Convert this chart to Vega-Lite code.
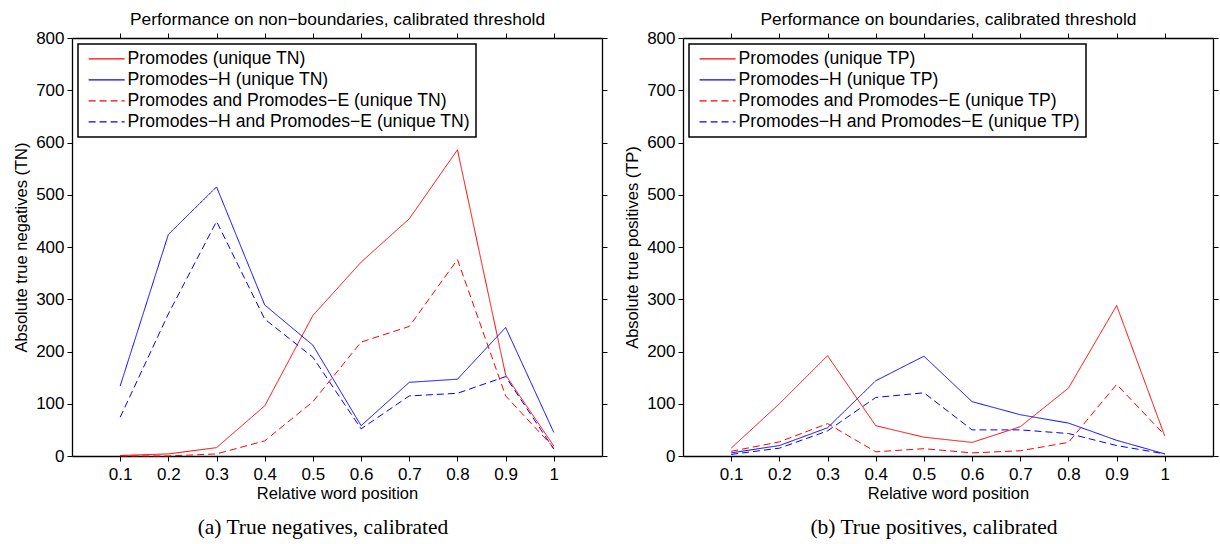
{
  "$schema": "https://vega.github.io/schema/vega-lite/v6.json",
  "background": "white",
  "padding": {"left": 13, "top": 10, "right": 1, "bottom": 2},
  "config": {
    "view": {"stroke": null},
    "axis": {
      "domainColor": "black", "domainWidth": 1.3, "tickColor": "black", "tickWidth": 1, "tickSize": 5,
      "labelColor": "black", "titleColor": "black", "labelFont": "Liberation Sans", "titleFont": "Liberation Sans",
      "labelFontSize": 17, "titleFontSize": 16.5, "titleFontWeight": "normal", "grid": false, "labelPadding": 3
    },
    "legend": {
      "orient": "top-left", "offset": 6, "strokeColor": "black", "strokeWidth": 1.5, "fillColor": "white",
      "padding": 6, "labelFont": "Liberation Sans", "labelFontSize": 17.6, "labelColor": "black",
      "symbolSize": 144, "symbolStrokeWidth": 1.2, "symbolType": "M-0.7,0L5.3,0", "rowPadding": 2, "labelOffset": 26,
      "labelLimit": 0, "cornerRadius": 0
    }
  },
  "datasets": {
    "tn": [
      {"pos": 0.1, "series": "Promodes (unique TN)", "value": 1},
      {"pos": 0.2, "series": "Promodes (unique TN)", "value": 4},
      {"pos": 0.3, "series": "Promodes (unique TN)", "value": 16},
      {"pos": 0.4, "series": "Promodes (unique TN)", "value": 96},
      {"pos": 0.5, "series": "Promodes (unique TN)", "value": 269},
      {"pos": 0.6, "series": "Promodes (unique TN)", "value": 371},
      {"pos": 0.7, "series": "Promodes (unique TN)", "value": 454},
      {"pos": 0.8, "series": "Promodes (unique TN)", "value": 586},
      {"pos": 0.9, "series": "Promodes (unique TN)", "value": 155},
      {"pos": 1.0, "series": "Promodes (unique TN)", "value": 19},
      {"pos": 0.1, "series": "Promodes−H (unique TN)", "value": 134},
      {"pos": 0.2, "series": "Promodes−H (unique TN)", "value": 424},
      {"pos": 0.3, "series": "Promodes−H (unique TN)", "value": 515},
      {"pos": 0.4, "series": "Promodes−H (unique TN)", "value": 289},
      {"pos": 0.5, "series": "Promodes−H (unique TN)", "value": 212},
      {"pos": 0.6, "series": "Promodes−H (unique TN)", "value": 58},
      {"pos": 0.7, "series": "Promodes−H (unique TN)", "value": 141},
      {"pos": 0.8, "series": "Promodes−H (unique TN)", "value": 147},
      {"pos": 0.9, "series": "Promodes−H (unique TN)", "value": 246},
      {"pos": 1.0, "series": "Promodes−H (unique TN)", "value": 45},
      {"pos": 0.1, "series": "Promodes and Promodes−E (unique TN)", "value": 0},
      {"pos": 0.2, "series": "Promodes and Promodes−E (unique TN)", "value": 0},
      {"pos": 0.3, "series": "Promodes and Promodes−E (unique TN)", "value": 4},
      {"pos": 0.4, "series": "Promodes and Promodes−E (unique TN)", "value": 29},
      {"pos": 0.5, "series": "Promodes and Promodes−E (unique TN)", "value": 104},
      {"pos": 0.6, "series": "Promodes and Promodes−E (unique TN)", "value": 218},
      {"pos": 0.7, "series": "Promodes and Promodes−E (unique TN)", "value": 248},
      {"pos": 0.8, "series": "Promodes and Promodes−E (unique TN)", "value": 376},
      {"pos": 0.9, "series": "Promodes and Promodes−E (unique TN)", "value": 115},
      {"pos": 1.0, "series": "Promodes and Promodes−E (unique TN)", "value": 16},
      {"pos": 0.1, "series": "Promodes−H and Promodes−E (unique TN)", "value": 74},
      {"pos": 0.2, "series": "Promodes−H and Promodes−E (unique TN)", "value": 272},
      {"pos": 0.3, "series": "Promodes−H and Promodes−E (unique TN)", "value": 449},
      {"pos": 0.4, "series": "Promodes−H and Promodes−E (unique TN)", "value": 262},
      {"pos": 0.5, "series": "Promodes−H and Promodes−E (unique TN)", "value": 189},
      {"pos": 0.6, "series": "Promodes−H and Promodes−E (unique TN)", "value": 52},
      {"pos": 0.7, "series": "Promodes−H and Promodes−E (unique TN)", "value": 115},
      {"pos": 0.8, "series": "Promodes−H and Promodes−E (unique TN)", "value": 120},
      {"pos": 0.9, "series": "Promodes−H and Promodes−E (unique TN)", "value": 152},
      {"pos": 1.0, "series": "Promodes−H and Promodes−E (unique TN)", "value": 13}
    ],
    "tp": [
      {"pos": 0.1, "series": "Promodes (unique TP)", "value": 15},
      {"pos": 0.2, "series": "Promodes (unique TP)", "value": 100},
      {"pos": 0.3, "series": "Promodes (unique TP)", "value": 192},
      {"pos": 0.4, "series": "Promodes (unique TP)", "value": 58},
      {"pos": 0.5, "series": "Promodes (unique TP)", "value": 36},
      {"pos": 0.6, "series": "Promodes (unique TP)", "value": 26},
      {"pos": 0.7, "series": "Promodes (unique TP)", "value": 56},
      {"pos": 0.8, "series": "Promodes (unique TP)", "value": 130},
      {"pos": 0.9, "series": "Promodes (unique TP)", "value": 288},
      {"pos": 1.0, "series": "Promodes (unique TP)", "value": 38},
      {"pos": 0.1, "series": "Promodes−H (unique TP)", "value": 6},
      {"pos": 0.2, "series": "Promodes−H (unique TP)", "value": 20},
      {"pos": 0.3, "series": "Promodes−H (unique TP)", "value": 54},
      {"pos": 0.4, "series": "Promodes−H (unique TP)", "value": 144},
      {"pos": 0.5, "series": "Promodes−H (unique TP)", "value": 191},
      {"pos": 0.6, "series": "Promodes−H (unique TP)", "value": 104},
      {"pos": 0.7, "series": "Promodes−H (unique TP)", "value": 79},
      {"pos": 0.8, "series": "Promodes−H (unique TP)", "value": 63},
      {"pos": 0.9, "series": "Promodes−H (unique TP)", "value": 30},
      {"pos": 1.0, "series": "Promodes−H (unique TP)", "value": 4},
      {"pos": 0.1, "series": "Promodes and Promodes−E (unique TP)", "value": 9},
      {"pos": 0.2, "series": "Promodes and Promodes−E (unique TP)", "value": 27},
      {"pos": 0.3, "series": "Promodes and Promodes−E (unique TP)", "value": 62},
      {"pos": 0.4, "series": "Promodes and Promodes−E (unique TP)", "value": 8},
      {"pos": 0.5, "series": "Promodes and Promodes−E (unique TP)", "value": 14},
      {"pos": 0.6, "series": "Promodes and Promodes−E (unique TP)", "value": 6},
      {"pos": 0.7, "series": "Promodes and Promodes−E (unique TP)", "value": 10},
      {"pos": 0.8, "series": "Promodes and Promodes−E (unique TP)", "value": 26},
      {"pos": 0.9, "series": "Promodes and Promodes−E (unique TP)", "value": 137},
      {"pos": 1.0, "series": "Promodes and Promodes−E (unique TP)", "value": 40},
      {"pos": 0.1, "series": "Promodes−H and Promodes−E (unique TP)", "value": 3},
      {"pos": 0.2, "series": "Promodes−H and Promodes−E (unique TP)", "value": 15},
      {"pos": 0.3, "series": "Promodes−H and Promodes−E (unique TP)", "value": 48},
      {"pos": 0.4, "series": "Promodes−H and Promodes−E (unique TP)", "value": 112},
      {"pos": 0.5, "series": "Promodes−H and Promodes−E (unique TP)", "value": 121},
      {"pos": 0.6, "series": "Promodes−H and Promodes−E (unique TP)", "value": 50},
      {"pos": 0.7, "series": "Promodes−H and Promodes−E (unique TP)", "value": 50},
      {"pos": 0.8, "series": "Promodes−H and Promodes−E (unique TP)", "value": 43},
      {"pos": 0.9, "series": "Promodes−H and Promodes−E (unique TP)", "value": 20},
      {"pos": 1.0, "series": "Promodes−H and Promodes−E (unique TP)", "value": 4}
    ]
  },
  "spacing": 16,
  "resolve": {
    "scale": {"color": "independent", "strokeDash": "independent"},
    "legend": {"color": "independent", "strokeDash": "independent"}
  },
  "hconcat": [
    {
      "width": 530, "height": 418,
      "data": {"name": "tn"},
      "title": {"text": "(a) True negatives, calibrated", "orient": "bottom", "font": "Liberation Serif", "fontSize": 21.5, "fontWeight": "normal", "color": "black", "offset": 15, "dx": -14},
      "layer": [
        {
          "mark": {"type": "line", "strokeWidth": 1},
          "encoding": {
            "x": {"field": "pos", "type": "quantitative", "scale": {"domain": [0, 1.1], "nice": false, "zero": false},
                  "axis": {"orient": "bottom", "values": [0.1, 0.2, 0.3, 0.4, 0.5, 0.6, 0.7, 0.8, 0.9, 1], "format": "~g", "title": "Relative word position", "titlePadding": 3, "labelPadding": 5}},
            "y": {"field": "value", "type": "quantitative", "scale": {"domain": [0, 800], "nice": false},
                  "axis": {"orient": "left", "values": [0, 100, 200, 300, 400, 500, 600, 700, 800], "title": "Absolute true negatives (TN)", "titlePadding": 6}},
            "color": {"field": "series", "type": "nominal",
                      "scale": {"domain": ["Promodes (unique TN)", "Promodes−H (unique TN)", "Promodes and Promodes−E (unique TN)", "Promodes−H and Promodes−E (unique TN)"], "range": ["#ff0000", "#0000ff", "#ff0000", "#0000ff"]},
                      "legend": {"title": null}},
            "strokeDash": {"field": "series", "type": "nominal",
                      "scale": {"domain": ["Promodes (unique TN)", "Promodes−H (unique TN)", "Promodes and Promodes−E (unique TN)", "Promodes−H and Promodes−E (unique TN)"], "range": [[1, 0], [1, 0], [7, 4], [7, 4]]},
                      "legend": {"title": null}}
          }
        },
        {
          "mark": {"type": "line", "opacity": 0},
          "encoding": {
            "x": {"field": "pos", "type": "quantitative",
                  "axis": {"orient": "top", "values": [0.1, 0.2, 0.3, 0.4, 0.5, 0.6, 0.7, 0.8, 0.9, 1], "labels": false, "title": "Performance on non−boundaries, calibrated threshold", "titleFontSize": 17.4, "titlePadding": 4}},
            "y": {"field": "value", "type": "quantitative",
                  "axis": {"orient": "right", "values": [0, 100, 200, 300, 400, 500, 600, 700, 800], "labels": false, "title": null}}
          }
        }
      ],
      "resolve": {"axis": {"x": "independent", "y": "independent"}}
    },
    {
      "width": 530, "height": 418,
      "data": {"name": "tp"},
      "title": {"text": "(b) True positives, calibrated", "orient": "bottom", "font": "Liberation Serif", "fontSize": 21.5, "fontWeight": "normal", "color": "black", "offset": 15, "dx": -14},
      "layer": [
        {
          "mark": {"type": "line", "strokeWidth": 1},
          "encoding": {
            "x": {"field": "pos", "type": "quantitative", "scale": {"domain": [0, 1.1], "nice": false, "zero": false},
                  "axis": {"orient": "bottom", "values": [0.1, 0.2, 0.3, 0.4, 0.5, 0.6, 0.7, 0.8, 0.9, 1], "format": "~g", "title": "Relative word position", "titlePadding": 3, "labelPadding": 5}},
            "y": {"field": "value", "type": "quantitative", "scale": {"domain": [0, 800], "nice": false},
                  "axis": {"orient": "left", "values": [0, 100, 200, 300, 400, 500, 600, 700, 800], "title": "Absolute true positives (TP)", "titlePadding": 6}},
            "color": {"field": "series", "type": "nominal",
                      "scale": {"domain": ["Promodes (unique TP)", "Promodes−H (unique TP)", "Promodes and Promodes−E (unique TP)", "Promodes−H and Promodes−E (unique TP)"], "range": ["#ff0000", "#0000ff", "#ff0000", "#0000ff"]},
                      "legend": {"title": null}},
            "strokeDash": {"field": "series", "type": "nominal",
                      "scale": {"domain": ["Promodes (unique TP)", "Promodes−H (unique TP)", "Promodes and Promodes−E (unique TP)", "Promodes−H and Promodes−E (unique TP)"], "range": [[1, 0], [1, 0], [7, 4], [7, 4]]},
                      "legend": {"title": null}}
          }
        },
        {
          "mark": {"type": "line", "opacity": 0},
          "encoding": {
            "x": {"field": "pos", "type": "quantitative",
                  "axis": {"orient": "top", "values": [0.1, 0.2, 0.3, 0.4, 0.5, 0.6, 0.7, 0.8, 0.9, 1], "labels": false, "title": "Performance on boundaries, calibrated threshold", "titleFontSize": 17.4, "titlePadding": 4}},
            "y": {"field": "value", "type": "quantitative",
                  "axis": {"orient": "right", "values": [0, 100, 200, 300, 400, 500, 600, 700, 800], "labels": false, "title": null}}
          }
        }
      ],
      "resolve": {"axis": {"x": "independent", "y": "independent"}}
    }
  ]
}
